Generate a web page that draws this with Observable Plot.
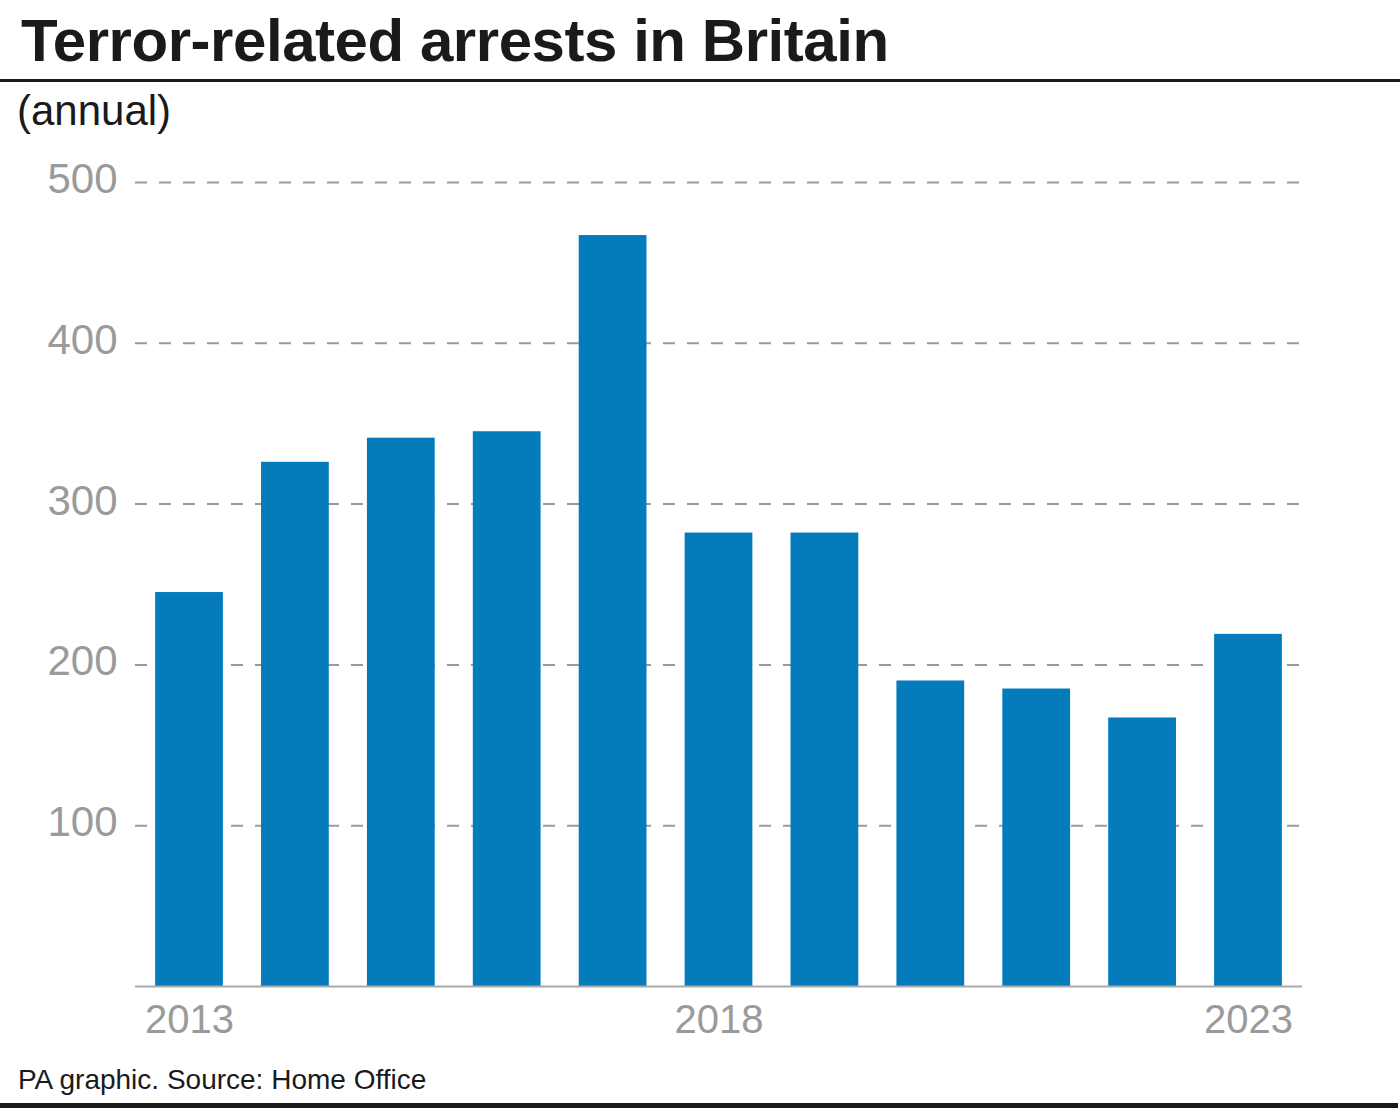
<!DOCTYPE html>
<html>
<head>
<meta charset="utf-8">
<script src="https://cdn.jsdelivr.net/npm/d3@7"></script>
<script src="https://cdn.jsdelivr.net/npm/@observablehq/plot@0.6"></script>
<style>
  html, body { margin: 0; padding: 0; background: #fff; }
  body { width: 1400px; height: 1114px; position: relative; overflow: hidden; font-family: "Liberation Sans", Arial, sans-serif; }
  #title { position: absolute; left: 21px; top: 6px; font-size: 60px; font-weight: bold; color: #1a1a1a; letter-spacing: -0.45px; line-height: 70px; white-space: nowrap; }
  #rule1 { position: absolute; left: 0; top: 79px; width: 1400px; height: 3px; background: #1a1a1a; }
  #subtitle { position: absolute; left: 17px; top: 86px; font-size: 42px; color: #1a1a1a; line-height: 50px; }
  #chart { position: absolute; left: 0; top: 140px; }
  #footer { position: absolute; left: 18px; top: 1062px; font-size: 28px; color: #1a1a1a; line-height: 36px; }
  #rule2 { position: absolute; left: 0; top: 1103px; width: 1398px; height: 5px; background: #1a1a1a; }
</style>
</head>
<body>
<div id="title">Terror-related arrests in Britain</div>
<div id="rule1"></div>
<div id="subtitle">(annual)</div>
<div id="chart"></div>
<div id="footer">PA graphic. Source: Home Office</div>
<div id="rule2"></div>
<script>
const years = [2013, 2014, 2015, 2016, 2017, 2018, 2019, 2020, 2021, 2022, 2023];
const arrests = [245, 326, 341, 345, 467, 282, 282, 190, 185, 167, 219];
const yTicks = [100, 200, 300, 400, 500];
const xTickLabels = [2013, 2018, 2023];

const data = years.map((y, i) => ({year: y, value: arrests[i]}));

const chart = Plot.plot({
  width: 1400,
  height: 920,
  marginLeft: 135,
  marginRight: 98,
  marginTop: 42,
  marginBottom: 74,
  style: {fontFamily: "'Liberation Sans', Arial, sans-serif", background: "#fff", overflow: "visible"},
  x: {type: "band", domain: years, paddingInner: 0.36, paddingOuter: 0.19, round: false, label: null},
  y: {domain: [0, 500], label: null},
  marks: [
    Plot.ruleY(yTicks, {stroke: "#9a9a9a", strokeWidth: 2, strokeDasharray: "12,12", strokeOpacity: 1}),
    Plot.barY(data, {x: "year", y: "value", fill: "#047cbc"}),
    Plot.ruleY([0], {stroke: "#aaaaaa", strokeWidth: 2}),
    Plot.axisY(yTicks, {tickSize: 0, tickPadding: 18, fontSize: 42, color: "#9a9a9a", label: null, dy: -3}),
    Plot.axisX(xTickLabels, {tickSize: 0, tickPadding: 18, fontSize: 40, color: "#9a9a9a", label: null, tickFormat: d => String(d)})
  ]
});
document.getElementById("chart").appendChild(chart);
</script>
</body>
</html>
